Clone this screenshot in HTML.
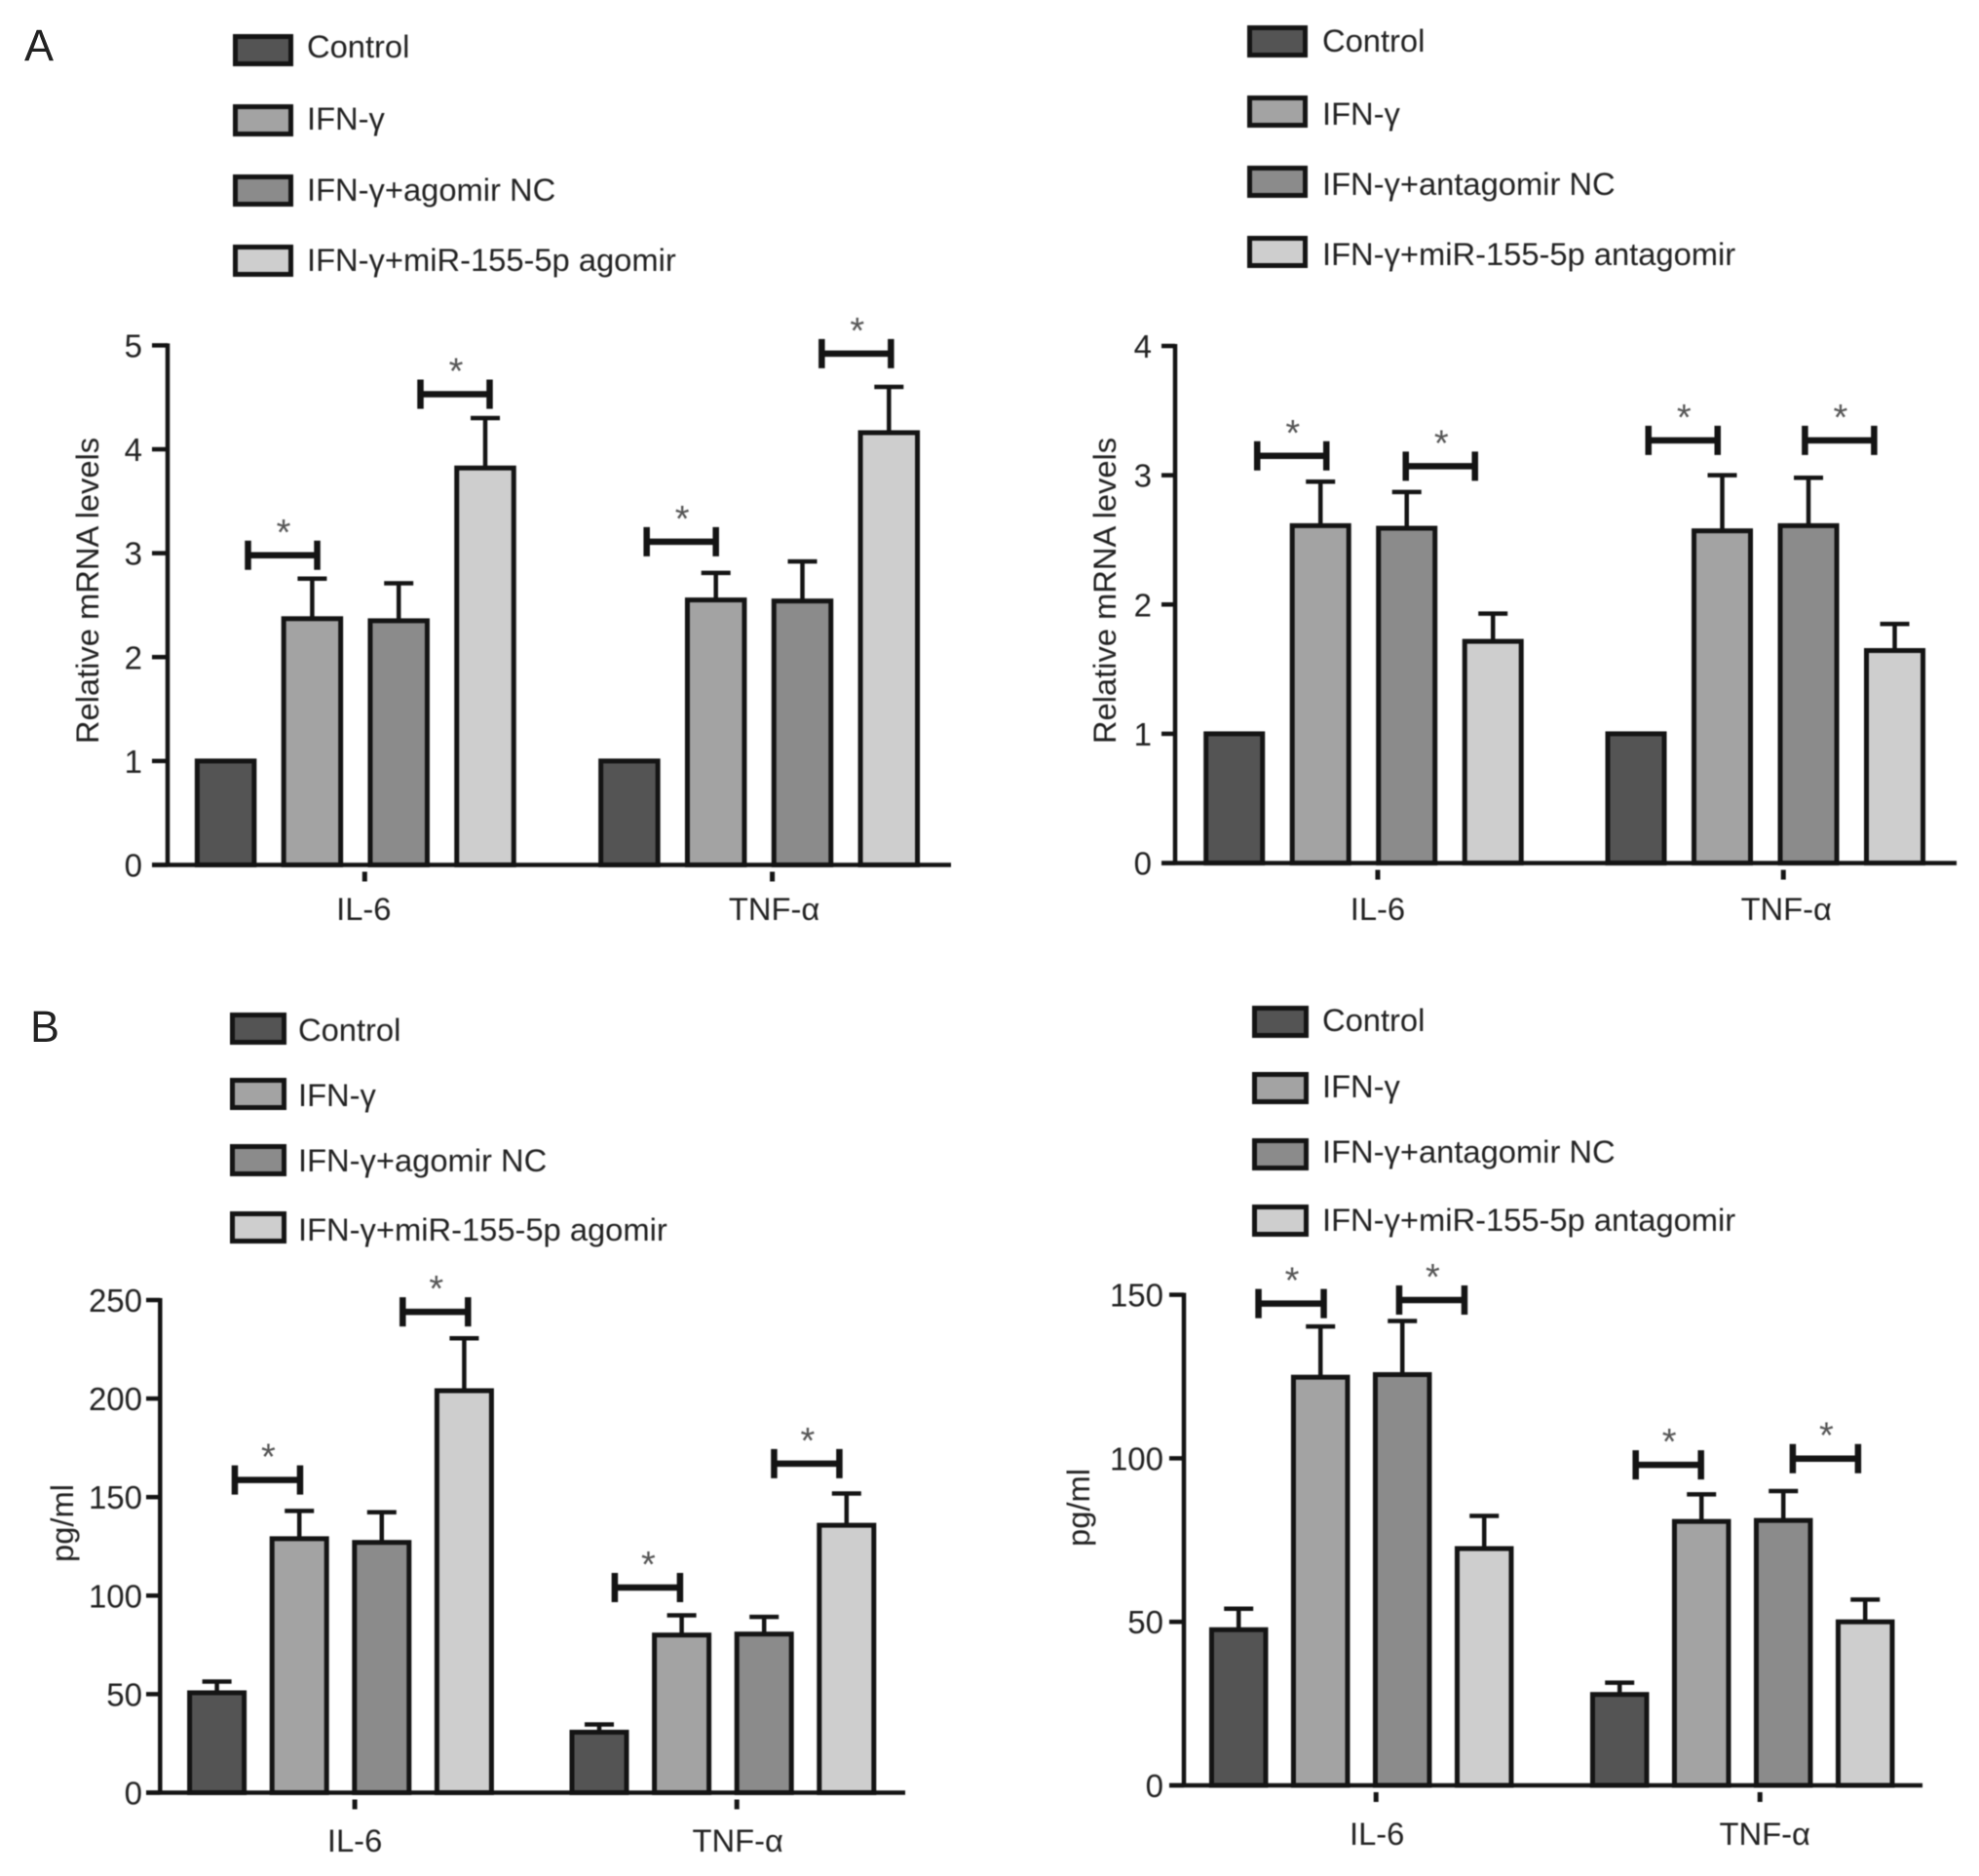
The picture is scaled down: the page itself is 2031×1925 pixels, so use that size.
<!DOCTYPE html>
<html lang="en">
<head>
<meta charset="utf-8">
<title>Relative mRNA levels and cytokine concentrations</title>
<style>
html,body{margin:0;padding:0;background:#fff;}
svg{display:block;font-family:"Liberation Sans",sans-serif;}
text{fill:#222;}
</style>
</head>
<body>
<svg id="figure" xmlns="http://www.w3.org/2000/svg" width="2031" height="1925" viewBox="0 0 2031 1925">
  <text x="25" y="62" font-size="45">A</text>
  <text x="31" y="1069" font-size="45">B</text>
  <g id="chart-layer" style="filter:blur(0.6px)"></g>
</svg>
<script>
const categories = ['IL-6', 'TNF-α'];
const barFills = ['#545454', '#a3a3a3', '#8b8b8b', '#cecece'];

const agomirLegend = ['Control', 'IFN-γ', 'IFN-γ+agomir NC', 'IFN-γ+miR-155-5p agomir'];
const antagomirLegend = ['Control', 'IFN-γ', 'IFN-γ+antagomir NC', 'IFN-γ+miR-155-5p antagomir'];

const mrnaTicksA = [0, 1, 2, 3, 4, 5];
const mrnaTicksB = [0, 1, 2, 3, 4];
const pgTicksC = [0, 50, 100, 150, 200, 250];
const pgTicksD = [0, 50, 100, 150];

const valuesA = [1, 2.37, 2.35, 3.82, 1, 2.55, 2.54, 4.16];
const errorsA = [1, 2.755, 2.71, 4.30, 1, 2.81, 2.92, 4.60];
const bracketLevelsA = [2.98, 4.53, 3.11, 4.92];
const bracketSlotsA = [0.658, 2.651, 0.60, 2.623];
const bracketGroupsA = [0, 0, 1, 1];

const valuesB = [1, 2.61, 2.59, 1.715, 1, 2.57, 2.61, 1.644];
const errorsB = [1, 2.95, 2.87, 1.93, 1, 3.0, 2.98, 1.85];
const bracketLevelsB = [3.15, 3.07, 3.27, 3.27];
const bracketSlotsB = [0.667, 2.39, 0.545, 2.36];
const bracketGroupsB = [0, 0, 1, 1];

const valuesC = [50.7, 128.9, 127, 204, 30.7, 80, 80.5, 135.7];
const errorsC = [56.4, 143, 142.3, 230.6, 34.6, 90, 89.2, 151.8];
const bracketLevelsC = [158.7, 244, 104.1, 167];
const bracketSlotsC = [0.613, 2.65, 0.584, 2.517];
const bracketGroupsC = [0, 0, 1, 1];

const valuesD = [47.6, 124.8, 125.6, 72.4, 27.8, 80.7, 81, 50];
const errorsD = [54, 140.3, 142, 82.4, 31.4, 89, 90, 56.8];
const bracketLevelsD = [147.3, 148.4, 98, 99.9];
const bracketSlotsD = [0.641, 2.36, 0.595, 2.514];
const bracketGroupsD = [0, 0, 1, 1];

const SVGNS = 'http://www.w3.org/2000/svg';
const layer = document.getElementById('chart-layer');

function make(tag, attrs, parent) {
  const node = document.createElementNS(SVGNS, tag);
  for (const k in attrs) node.setAttribute(k, attrs[k]);
  parent.appendChild(node);
  return node;
}

function drawPanel(cfg) {
  const g = make('g', {}, layer);
  
  

  const yScale = v => cfg.y0 - (v / cfg.yMax) * (cfg.y0 - cfg.yTop);
  const xScale = i => cfg.x0 + cfg.step * (i % 4) + cfg.gap * Math.floor(i / 4);
  const bracketX = (slot, grp) => cfg.x0 + cfg.step * slot + cfg.gap * grp;
  const ink = '#141414';

  // legend
  cfg.legend.forEach((label, i) => {
    const sw = make('rect', {
      x: cfg.legendX + 2.5, y: cfg.swatchY[i] + 2.5,
      width: cfg.swatchW - 5, height: cfg.swatchH - 5,
      fill: barFills[i], stroke: ink, 'stroke-width': 5
    }, g);
    
    
    const t = make('text', { x: cfg.legendTextX, y: cfg.legendBase[i], 'font-size': 32.7 }, g);
    t.textContent = label;
    
    
  });

  // bars and error bars
  cfg.values.forEach((v, i) => {
    const cx = xScale(i);
    const top = yScale(v);
    if (cfg.errors[i] > v) {
      const errTop = yScale(cfg.errors[i]);
      const stem = make('line', { x1: cx, x2: cx, y1: top, y2: errTop, stroke: ink, 'stroke-width': 4.5 }, g);
      
      
      const cap = make('line', { x1: cx - 15, x2: cx + 15, y1: errTop, y2: errTop, stroke: ink, 'stroke-width': 4.5 }, g);
      
      
    }
    const bar = make('rect', {
      x: cx - cfg.barW / 2, y: top, width: cfg.barW, height: cfg.y0 - top,
      fill: barFills[i % 4], stroke: ink, 'stroke-width': 5
    }, g);
    
    
  });

  // y axis
  const yAxis = make('line', { x1: cfg.axisX, x2: cfg.axisX, y1: yScale(cfg.yMax) - 2, y2: cfg.y0 + 2, stroke: ink, 'stroke-width': 4.5 }, g);
  
  
  cfg.ticks.forEach(v => {
    const y = yScale(v);
    const tick = make('line', { x1: cfg.tickX0, x2: cfg.axisX, y1: y, y2: y, stroke: ink, 'stroke-width': 4.5 }, g);
    
    
    const t = make('text', { x: cfg.tickLabelX, y: y + 12, 'font-size': 33, 'text-anchor': 'end' }, g);
    t.textContent = v;
    
    
  });

  // x axis
  const xAxis = make('line', { x1: cfg.tickX0, x2: cfg.axisEnd, y1: cfg.y0, y2: cfg.y0, stroke: ink, 'stroke-width': 4.5 }, g);
  
  
  categories.forEach((c, i) => {
    const x = (xScale(i * 4) + xScale(i * 4 + 3)) / 2 + cfg.catShift[i];
    const tick = make('line', { x1: x, x2: x, y1: cfg.y0 + 7, y2: cfg.y0 + 17, stroke: ink, 'stroke-width': 5 }, g);
    
    
    const t = make('text', { x: x + cfg.catLabelShift[i], y: cfg.catBase, 'font-size': 32.7, 'text-anchor': 'middle' }, g);
    t.textContent = c;
    
    
  });

  // y axis title
  const title = make('text', {
    x: 0, y: 0, 'font-size': 32.7, 'text-anchor': 'middle',
    transform: 'translate(' + cfg.titleX + ' ' + cfg.titleY + ') rotate(-90)'
  }, g);
  title.textContent = cfg.title;
  
  

  // significance brackets
  cfg.bracketLevels.forEach((lvl, i) => {
    const cx = bracketX(cfg.bracketSlots[i], cfg.bracketGroups[i]);
    const y = yScale(lvl);
    const hw = cfg.bracketW / 2;
    const br = make('path', {
      d: 'M' + (cx - hw) + ' ' + (y - 15) + 'V' + (y + 15) + 'M' + (cx - hw) + ' ' + y + 'H' + (cx + hw) + 'M' + (cx + hw) + ' ' + (y - 15) + 'V' + (y + 15),
      fill: 'none', stroke: ink, 'stroke-width': 6.5
    }, g);
    
    
    const star = make('text', { x: cx + 1, y: y - 11, 'font-size': 38, 'text-anchor': 'middle', style: 'fill:#555' }, g);
    star.textContent = '*';
    
    
  });
}

drawPanel({
  id: 'a-agomir-mrna', values: valuesA, errors: errorsA, ticks: mrnaTicksA, yMax: 5, legend: agomirLegend,
  bracketLevels: bracketLevelsA, bracketSlots: bracketSlotsA, bracketGroups: bracketGroupsA,
  x0: 231.6, step: 88.8, gap: 414.3, barW: 58.5, bracketW: 71,
  y0: 887.5, yTop: 354.4, axisX: 172, tickX0: 156, tickLabelX: 146, axisEnd: 976,
  catShift: [9.5, 13.5], catLabelShift: [-1, 2], catBase: 944, title: 'Relative mRNA levels', titleX: 101, titleY: 606,
  legendX: 239, swatchW: 62, swatchH: 33, swatchY: [35, 107, 179, 251], legendTextX: 315, legendBase: [59, 133, 206, 278]
});
drawPanel({
  id: 'a-antagomir-mrna', values: valuesB, errors: errorsB, ticks: mrnaTicksB, yMax: 4, legend: antagomirLegend,
  bracketLevels: bracketLevelsB, bracketSlots: bracketSlotsB, bracketGroups: bracketGroupsB,
  x0: 1266.7, step: 88.5, gap: 412.3, barW: 58, bracketW: 71,
  y0: 885.6, yTop: 355, axisX: 1206, tickX0: 1192, tickLabelX: 1182, axisEnd: 2008,
  catShift: [14.5, 18.5], catLabelShift: [0, 3], catBase: 944, title: 'Relative mRNA levels', titleX: 1145, titleY: 606,
  legendX: 1280, swatchW: 62, swatchH: 33, swatchY: [26, 98, 170, 242], legendTextX: 1357, legendBase: [53, 128, 200, 272]
});
drawPanel({
  id: 'b-agomir-pg', values: valuesC, errors: errorsC, ticks: pgTicksC, yMax: 250, legend: agomirLegend,
  bracketLevels: bracketLevelsC, bracketSlots: bracketSlotsC, bracketGroups: bracketGroupsC,
  x0: 222.6, step: 84.6, gap: 392.4, barW: 56, bracketW: 67,
  y0: 1839.5, yTop: 1334, axisX: 164.3, tickX0: 150, tickLabelX: 146, axisEnd: 929,
  catShift: [14.6, 14.3], catLabelShift: [0, 1], catBase: 1900, title: 'pg/ml', titleX: 75, titleY: 1563,
  legendX: 236, swatchW: 58, swatchH: 33, swatchY: [1039, 1106, 1174, 1243], legendTextX: 306, legendBase: [1068, 1135, 1202, 1273]
});
drawPanel({
  id: 'b-antagomir-pg', values: valuesD, errors: errorsD, ticks: pgTicksD, yMax: 150, legend: antagomirLegend,
  bracketLevels: bracketLevelsD, bracketSlots: bracketSlotsD, bracketGroups: bracketGroupsD,
  x0: 1271.2, step: 84, gap: 391, barW: 55.5, bracketW: 67,
  y0: 1832, yTop: 1328.6, axisX: 1215, tickX0: 1200, tickLabelX: 1194, axisEnd: 1973,
  catShift: [15, 18], catLabelShift: [1, 5], catBase: 1893, title: 'pg/ml', titleX: 1118, titleY: 1547,
  legendX: 1285, swatchW: 58, swatchH: 33, swatchY: [1032, 1100, 1168, 1236], legendTextX: 1357, legendBase: [1058, 1126, 1193, 1263]
});
</script>
</body>
</html>
